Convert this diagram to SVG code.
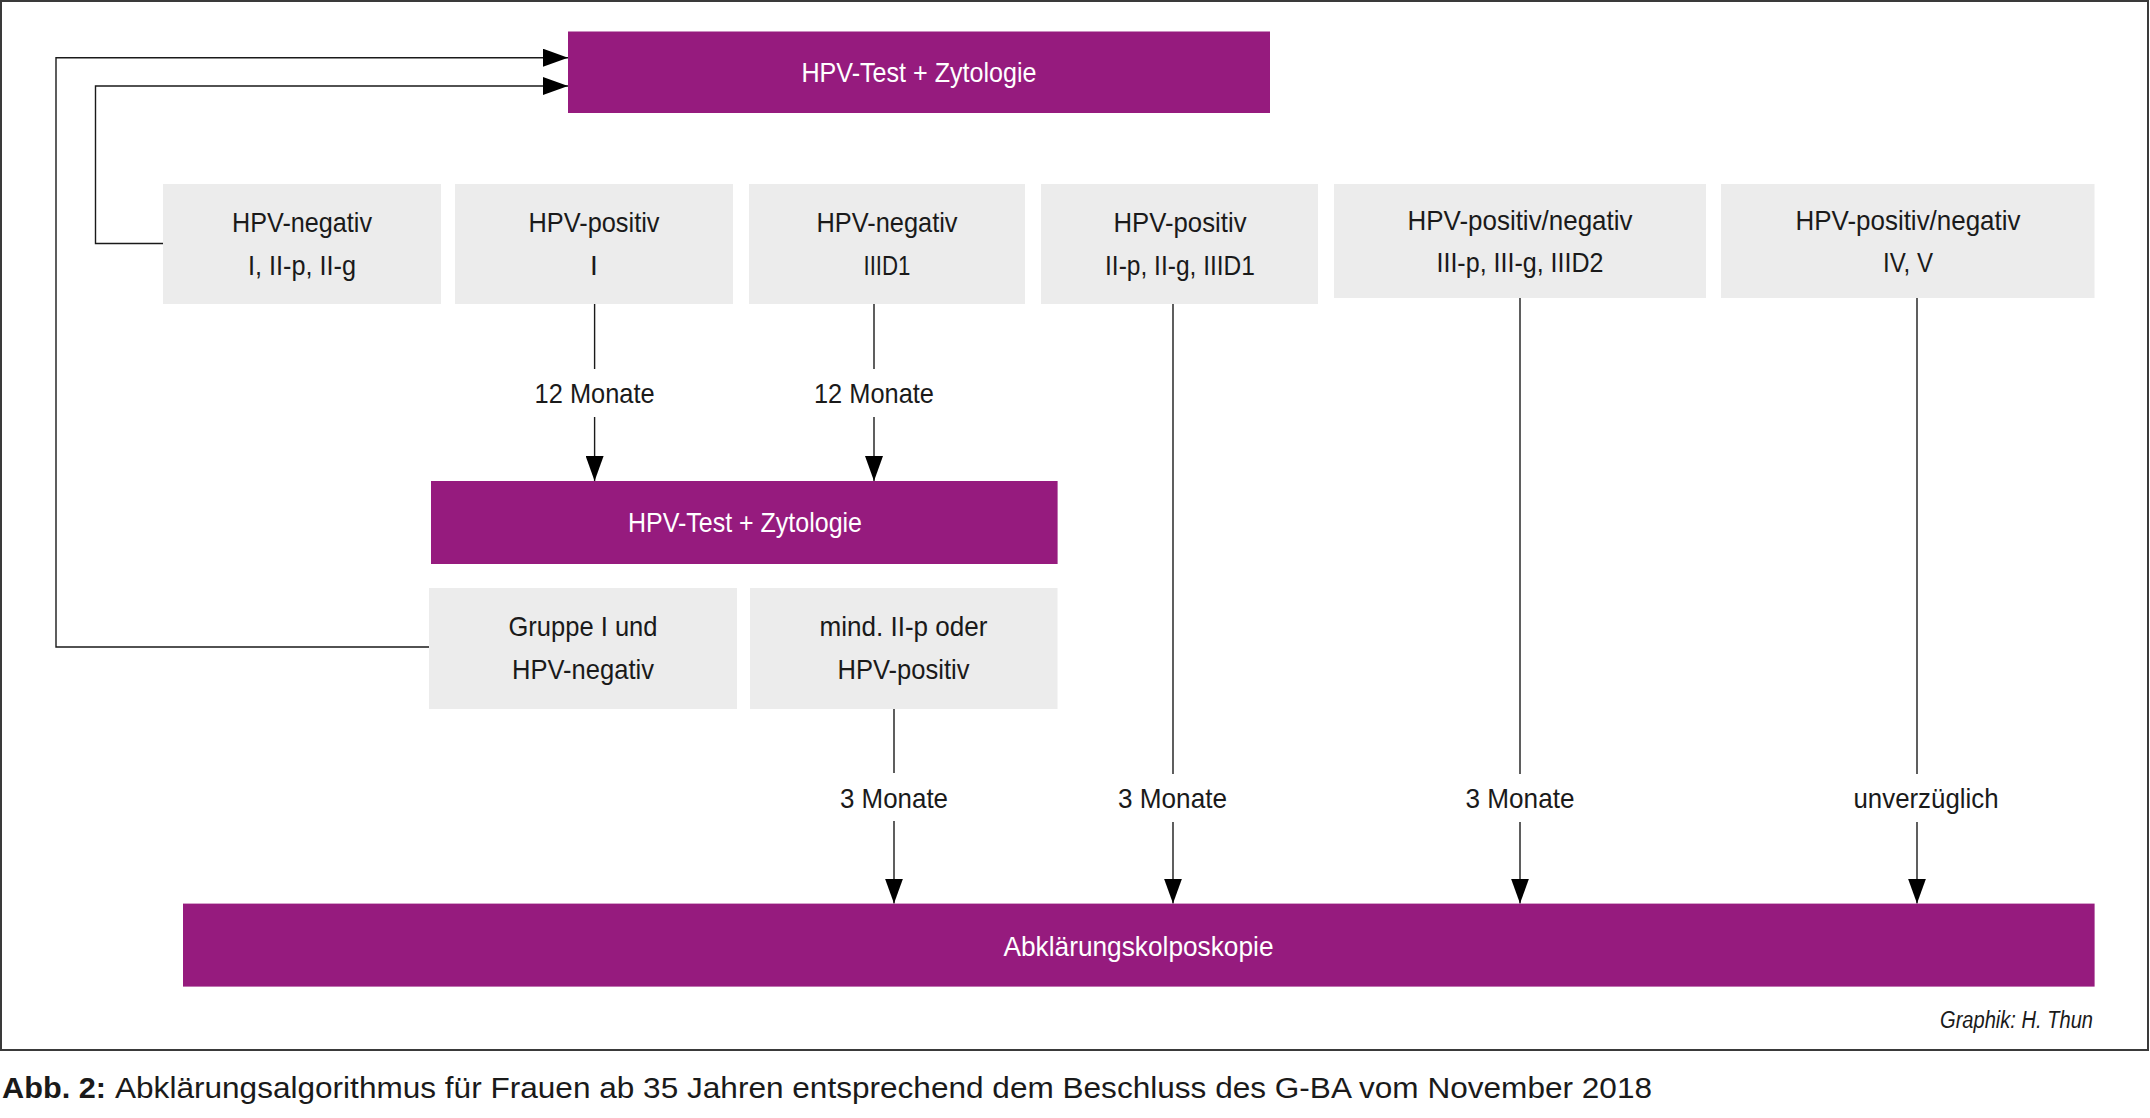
<svg xmlns="http://www.w3.org/2000/svg" width="2150" height="1118" viewBox="0 0 2150 1118">
<style>
.t{font-family:"Liberation Sans",Arial,sans-serif;font-size:28px;fill:#1a1a1a;text-anchor:middle}
.w{fill:#ffffff}
.p{fill:#961b7e}
.g{fill:#ececec}
.c{fill:none;stroke:#1a1a1a;stroke-width:1.4}
</style>
<defs>
<marker id="ah" markerUnits="userSpaceOnUse" markerWidth="25" markerHeight="18" refX="25" refY="9" orient="auto"><path d="M0,0 L25,9 L0,18 z" fill="#000"/></marker>
</defs>
<rect x="0" y="0" width="2150" height="1118" fill="#fff"/>
<rect x="1" y="1" width="2147" height="1049" fill="none" stroke="#3a3a3a" stroke-width="2"/>

<g id="connectors">
<path class="c" d="M429,647 H56 V57.7 H568" marker-end="url(#ah)"/>
<path class="c" d="M163,243.5 H95.5 V86 H568" marker-end="url(#ah)"/>
<line class="c" x1="594.6" y1="304" x2="594.6" y2="369"/>
<line class="c" x1="594.6" y1="417" x2="594.6" y2="481" marker-end="url(#ah)"/>
<line class="c" x1="874" y1="304" x2="874" y2="369"/>
<line class="c" x1="874" y1="417" x2="874" y2="481" marker-end="url(#ah)"/>
<line class="c" x1="894" y1="709" x2="894" y2="773"/>
<line class="c" x1="894" y1="821" x2="894" y2="903.6" marker-end="url(#ah)"/>
<line class="c" x1="1173" y1="304" x2="1173" y2="774"/>
<line class="c" x1="1173" y1="822" x2="1173" y2="903.6" marker-end="url(#ah)"/>
<line class="c" x1="1520" y1="298" x2="1520" y2="774"/>
<line class="c" x1="1520" y1="822" x2="1520" y2="903.6" marker-end="url(#ah)"/>
<line class="c" x1="1917" y1="298" x2="1917" y2="774"/>
<line class="c" x1="1917" y1="822" x2="1917" y2="903.6" marker-end="url(#ah)"/>
<text class="t" x="594.6" y="403" textLength="120" lengthAdjust="spacingAndGlyphs">12 Monate</text>
<text class="t" x="874" y="403" textLength="120" lengthAdjust="spacingAndGlyphs">12 Monate</text>
<text class="t" x="894" y="808" textLength="108" lengthAdjust="spacingAndGlyphs">3 Monate</text>
<text class="t" x="1172.5" y="808" textLength="109" lengthAdjust="spacingAndGlyphs">3 Monate</text>
<text class="t" x="1520" y="808" textLength="109" lengthAdjust="spacingAndGlyphs">3 Monate</text>
<text class="t" x="1926" y="808" textLength="145" lengthAdjust="spacingAndGlyphs">unverzüglich</text>
</g>

<g id="top-test">
<rect class="p" x="568" y="31.5" width="702" height="81.5"/>
<text class="t w" x="919" y="82" textLength="235" lengthAdjust="spacingAndGlyphs">HPV-Test + Zytologie</text>
</g>

<g id="box1">
<rect class="g" x="163" y="184" width="278" height="120"/>
<text class="t" x="302" y="232" textLength="140" lengthAdjust="spacingAndGlyphs">HPV-negativ</text>
<text class="t" x="302" y="275" textLength="108" lengthAdjust="spacingAndGlyphs">I, II-p, II-g</text>
</g>
<g id="box2">
<rect class="g" x="455" y="184" width="278" height="120"/>
<text class="t" x="594" y="232" textLength="131" lengthAdjust="spacingAndGlyphs">HPV-positiv</text>
<text class="t" x="594" y="275">I</text>
</g>
<g id="box3">
<rect class="g" x="749" y="184" width="276" height="120"/>
<text class="t" x="887" y="232" textLength="141" lengthAdjust="spacingAndGlyphs">HPV-negativ</text>
<text class="t" x="887" y="275" textLength="47" lengthAdjust="spacingAndGlyphs">IIID1</text>
</g>
<g id="box4">
<rect class="g" x="1041" y="184" width="277" height="120"/>
<text class="t" x="1180" y="232" textLength="133" lengthAdjust="spacingAndGlyphs">HPV-positiv</text>
<text class="t" x="1180" y="275" textLength="150" lengthAdjust="spacingAndGlyphs">II-p, II-g, IIID1</text>
</g>
<g id="box5">
<rect class="g" x="1334" y="184" width="372" height="114"/>
<text class="t" x="1520" y="230" textLength="225" lengthAdjust="spacingAndGlyphs">HPV-positiv/negativ</text>
<text class="t" x="1520" y="272" textLength="167" lengthAdjust="spacingAndGlyphs">III-p, III-g, IIID2</text>
</g>
<g id="box6">
<rect class="g" x="1721" y="184" width="373.5" height="114"/>
<text class="t" x="1908" y="230" textLength="225" lengthAdjust="spacingAndGlyphs">HPV-positiv/negativ</text>
<text class="t" x="1908" y="272" textLength="50" lengthAdjust="spacingAndGlyphs">IV, V</text>
</g>

<g id="mid-test">
<rect class="p" x="431" y="481" width="626.6" height="83"/>
<text class="t w" x="745" y="532" textLength="234" lengthAdjust="spacingAndGlyphs">HPV-Test + Zytologie</text>
</g>

<g id="gruppe">
<rect class="g" x="429" y="588" width="308" height="121"/>
<text class="t" x="583" y="636" textLength="149" lengthAdjust="spacingAndGlyphs">Gruppe I und</text>
<text class="t" x="583" y="679" textLength="142" lengthAdjust="spacingAndGlyphs">HPV-negativ</text>
</g>
<g id="mind">
<rect class="g" x="750" y="588" width="307.5" height="121"/>
<text class="t" x="903.5" y="636" textLength="168" lengthAdjust="spacingAndGlyphs">mind. II-p oder</text>
<text class="t" x="903.5" y="679" textLength="132" lengthAdjust="spacingAndGlyphs">HPV-positiv</text>
</g>

<g id="kolposkopie">
<rect class="p" x="183" y="903.6" width="1911.6" height="83"/>
<text class="t w" x="1138.5" y="956" textLength="270" lengthAdjust="spacingAndGlyphs">Abklärungskolposkopie</text>
</g>

<text x="2093" y="1028" font-family="Liberation Sans, Arial, sans-serif" font-size="23" font-style="italic" fill="#1a1a1a" text-anchor="end" textLength="153" lengthAdjust="spacingAndGlyphs">Graphik: H. Thun</text>

<text x="2" y="1098" font-family="Liberation Sans, Arial, sans-serif" font-size="30" font-weight="bold" fill="#1a1a1a" textLength="104" lengthAdjust="spacingAndGlyphs">Abb. 2:</text>
<text x="115" y="1098" font-family="Liberation Sans, Arial, sans-serif" font-size="30" fill="#1a1a1a" textLength="1537" lengthAdjust="spacingAndGlyphs">Abklärungsalgorithmus für Frauen ab 35 Jahren entsprechend dem Beschluss des G-BA vom November 2018</text>
</svg>
